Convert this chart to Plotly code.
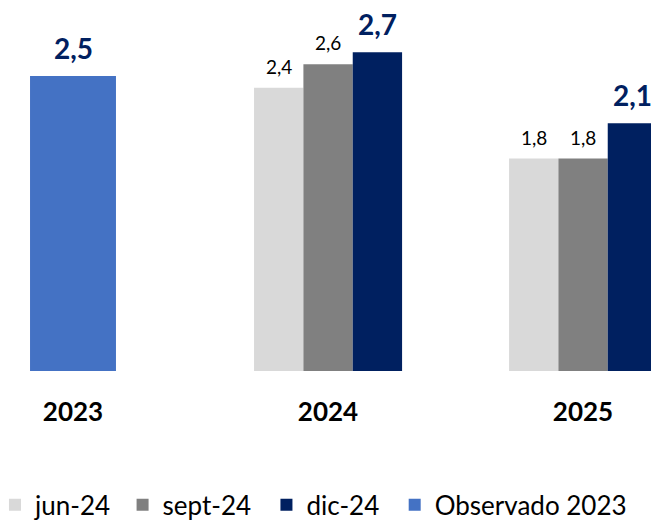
import plotly.graph_objects as go

years = ["2023", "2024", "2025"]
jun24 = [None, 2.4, 1.8]
sept24 = [None, 2.6, 1.8]
dic24 = [None, 2.7, 2.1]
observado = [2.5, None, None]

FONT = "Lato"
NAVY = "#002060"

series = [
    # name, values, color, offset, width, bold label, legend id, legend x
    ("jun-24", jun24, "#D9D9D9", -0.290, 0.1935, False, "legend", -0.020),
    ("sept-24", sept24, "#808080", -0.0965, 0.1935, False, "legend2", 0.176),
    ("dic-24", dic24, NAVY, 0.097, 0.1935, True, "legend3", 0.397),
    ("Observado 2023", observado, "#4472C4", -0.1685, 0.337, True, "legend4", 0.594),
]

fig = go.Figure()
annotations = []
legends = {}
for name, vals, color, off, w, bold, lg, lx in series:
    fig.add_trace(go.Bar(name=name, x=years, y=vals, marker_color=color,
                         marker_line_width=0, width=w, offset=off,
                         legend=lg, showlegend=True))
    legends[lg] = dict(orientation="h", x=lx, xanchor="left", y=-0.369, yanchor="middle",
                       font=dict(family=FONT, size=26, color="#000000"),
                       itemwidth=30, bgcolor="rgba(0,0,0,0)")
    for i, v in enumerate(vals):
        if v is None:
            continue
        if bold:
            f = dict(family=FONT, size=28, color=NAVY, weight="bold")
            ys = 10
        else:
            f = dict(family=FONT, size=19, color="#000000")
            ys = 9
        annotations.append(dict(
            x=i + off + w / 2, y=v, xref="x", yref="y", text=f"{v:.1f}".replace(".", ","),
            showarrow=False, xanchor="center", yanchor="bottom", borderpad=0,
            yshift=ys, font=f))

fig.update_layout(
    width=651, height=512,
    margin=dict(l=0, r=0, t=0, b=149, autoexpand=False),
    plot_bgcolor="white", paper_bgcolor="white",
    barmode="overlay",
    separators=",.",
    font=dict(family=FONT),
    showlegend=True,
    annotations=annotations,
    **legends,
)
fig.update_xaxes(type="category", range=[-0.2549, 2.298], showgrid=False, showline=False,
                 ticks="", ticklabelstandoff=23,
                 tickfont=dict(family=FONT, size=26, color="#000000", weight="bold"))
fig.update_yaxes(range=[0, 3.076], visible=False, showgrid=False)

fig.write_html("out.html")
